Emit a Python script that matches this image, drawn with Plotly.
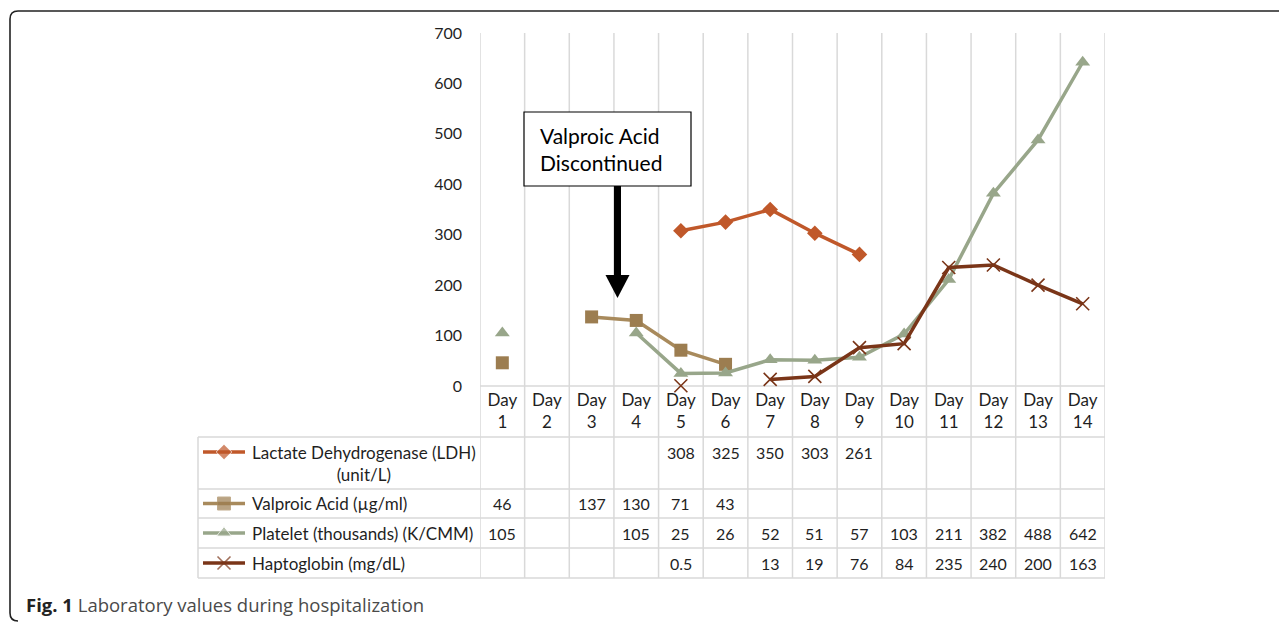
import plotly.graph_objects as go

W, H = 1287, 622
OFF = 8  # page body margin

days = list(range(1, 15))
day_labels = [f"Day<br>{d}" for d in days]
y_ticks = [0, 100, 200, 300, 400, 500, 600, 700]

series_names = [
    "Lactate Dehydrogenase (LDH)<br>(unit/L)",
    "Valproic Acid (µg/ml)",
    "Platelet (thousands) (K/CMM)",
    "Haptoglobin (mg/dL)",
]
ldh = [None, None, None, None, 308, 325, 350, 303, 261, None, None, None, None, None]
valproic = [46, None, 137, 130, 71, 43, None, None, None, None, None, None, None, None]
platelet = [105, None, None, 105, 25, 26, 52, 51, 57, 103, 211, 382, 488, 642]
haptoglobin = [None, None, None, None, 0.5, None, 13, 19, 76, 84, 235, 240, 200, 163]
series_values = [ldh, valproic, platelet, haptoglobin]

colors = ["#c0582a", "#a88a5c", "#98a68a", "#7a3518"]
marker_colors = ["#c0582a", "#9c7d50", "#98a68a", "#7a3518"]
symbols = ["diamond", "square", "triangle-up", "x-thin"]
msizes = [12, 13, 13, 13]

FONT = "Lato"
TXT = "#1f1f1f"
GRID = "#d9d9d9"


def px(x):
    return (x - OFF) / W


def py(y):
    return 1 - (y - OFF) / H


X0, X1 = 480, 1105
Y0, Y1 = 33, 386
row_edges = [437, 489, 518, 548, 578]
TBL_LEFT = 198

fig = go.Figure()

for name, vals, c, mc, sym, ms in zip(series_names, series_values, colors, marker_colors, symbols, msizes):
    mk = dict(symbol=sym, size=ms, color=mc)
    if sym == "x-thin":
        mk["line"] = dict(color=mc, width=1.6)
    fig.add_trace(go.Scatter(
        x=days, y=vals, mode="lines+markers", name=name,
        line=dict(color=c, width=3.5), marker=mk,
        connectgaps=False, cliponaxis=False, showlegend=False,
        xaxis="x", yaxis="y",
    ))

for i, (c, mc, sym, ms) in enumerate(zip(colors, marker_colors, symbols, msizes)):
    yc = 452 if i == 0 else (row_edges[i] + row_edges[i + 1]) / 2
    mk = dict(symbol=sym, size=[0, ms, 0], color=mc)
    if sym == "x-thin":
        mk["line"] = dict(color=mc, width=1.6)
    fig.add_trace(go.Scatter(
        x=[203 - OFF, 224 - OFF, 245 - OFF], y=[yc - OFF] * 3, mode="lines+markers",
        line=dict(color=c, width=3.5), marker=mk, showlegend=False,
        hoverinfo="skip", xaxis="x2", yaxis="y2",
    ))

shapes = []
annotations = []

r = 8
fx0, fy0, fx1, fy1 = 10, 11, 1310, 621
path = (f"M {px(fx1)} {py(fy0)} L {px(fx0 + r)} {py(fy0)} "
        f"Q {px(fx0)} {py(fy0)} {px(fx0)} {py(fy0 + r)} "
        f"L {px(fx0)} {py(fy1 - r)} Q {px(fx0)} {py(fy1)} {px(fx0 + r)} {py(fy1)}")
shapes.append(dict(type="path", xref="paper", yref="paper", path=path,
                   line=dict(color="#222", width=1.6)))

for k in range(15):
    shapes.append(dict(type="line", xref="x", yref="paper",
                       x0=0.5 + k, x1=0.5 + k, y0=py(Y0), y1=py(row_edges[-1]),
                       line=dict(color=GRID, width=1.5), layer="below"))
shapes.append(dict(type="line", xref="paper", yref="paper",
                   x0=px(X0), x1=px(X1), y0=py(Y1), y1=py(Y1),
                   line=dict(color=GRID, width=1.5), layer="below"))
for ye in row_edges:
    shapes.append(dict(type="line", xref="paper", yref="paper",
                       x0=px(TBL_LEFT), x1=px(X1), y0=py(ye), y1=py(ye),
                       line=dict(color=GRID, width=1.5), layer="below"))
shapes.append(dict(type="line", xref="paper", yref="paper",
                   x0=px(TBL_LEFT), x1=px(TBL_LEFT), y0=py(row_edges[0]), y1=py(row_edges[-1]),
                   line=dict(color=GRID, width=1.5), layer="below"))

for i, (name, vals) in enumerate(zip(series_names, series_values)):
    yc = (row_edges[i] + row_edges[i + 1]) / 2
    annotations.append(dict(xref="paper", yref="paper", x=px(250), y=py(yc),
                            xanchor="left", yanchor="middle", align="center",
                            text=name, showarrow=False,
                            font=dict(family=FONT, size=17, color=TXT)))
    vy = 452 if i == 0 else yc
    for d, v in zip(days, vals):
        if v is None:
            continue
        annotations.append(dict(xref="x", yref="paper", x=d, y=py(vy),
                                xanchor="center", yanchor="middle",
                                text=f"{v:g}", showarrow=False,
                                font=dict(family=FONT, size=16, color=TXT)))

shapes.append(dict(type="rect", xref="paper", yref="paper",
                   x0=px(524), x1=px(691), y0=py(112), y1=py(186),
                   line=dict(color="#000", width=1.2), fillcolor="white"))
annotations.append(dict(xref="paper", yref="paper", x=px(538), y=py(149),
                        xanchor="left", yanchor="middle", align="left",
                        text="Valproic Acid<br>Discontinued", showarrow=False,
                        font=dict(family=FONT, size=21, color="#000")))
shapes.append(dict(type="rect", xref="paper", yref="paper",
                   x0=px(614), x1=px(621), y0=py(186), y1=py(276),
                   line=dict(width=0), fillcolor="#000"))
shapes.append(dict(type="path", xref="paper", yref="paper",
                   path=f"M {px(605.5)} {py(275)} L {px(629.5)} {py(275)} L {px(617.5)} {py(298)} Z",
                   line=dict(width=0), fillcolor="#000"))

annotations.append(dict(xref="paper", yref="paper", x=px(24), y=py(604),
                        xanchor="left", yanchor="middle",
                        text="<b>Fig. 1</b> <span style='color:#4a4a4a'>Laboratory values during hospitalization</span>",
                        showarrow=False, font=dict(family="Open Sans", size=18.5, color="#222")))

fig.update_layout(
    template="none",
    width=W, height=H,
    margin=dict(l=0, r=0, t=0, b=0, pad=0, autoexpand=False),
    paper_bgcolor="white", plot_bgcolor="rgba(0,0,0,0)",
    xaxis=dict(domain=[px(X0), px(X1)], range=[0.5, 14.5], automargin=False,
               tickvals=days, ticktext=day_labels, showgrid=False,
               zeroline=False, showline=False, ticks="",
               ticklabelstandoff=2,
               tickfont=dict(family=FONT, size=17, color=TXT)),
    yaxis=dict(domain=[py(Y1), py(Y0)], range=[0, 700], automargin=False,
               tickvals=y_ticks, showgrid=False, zeroline=False, showline=False,
               ticks="", ticklabelstandoff=17,
               tickfont=dict(family=FONT, size=16, color=TXT)),
    xaxis2=dict(domain=[0, 1], range=[0, W], visible=False, fixedrange=True,
                automargin=False),
    yaxis2=dict(domain=[0, 1], range=[H, 0], visible=False, fixedrange=True,
                anchor="x2", automargin=False),
    shapes=shapes,
    annotations=annotations,
    showlegend=False,
)

fig.write_html("out.html")
